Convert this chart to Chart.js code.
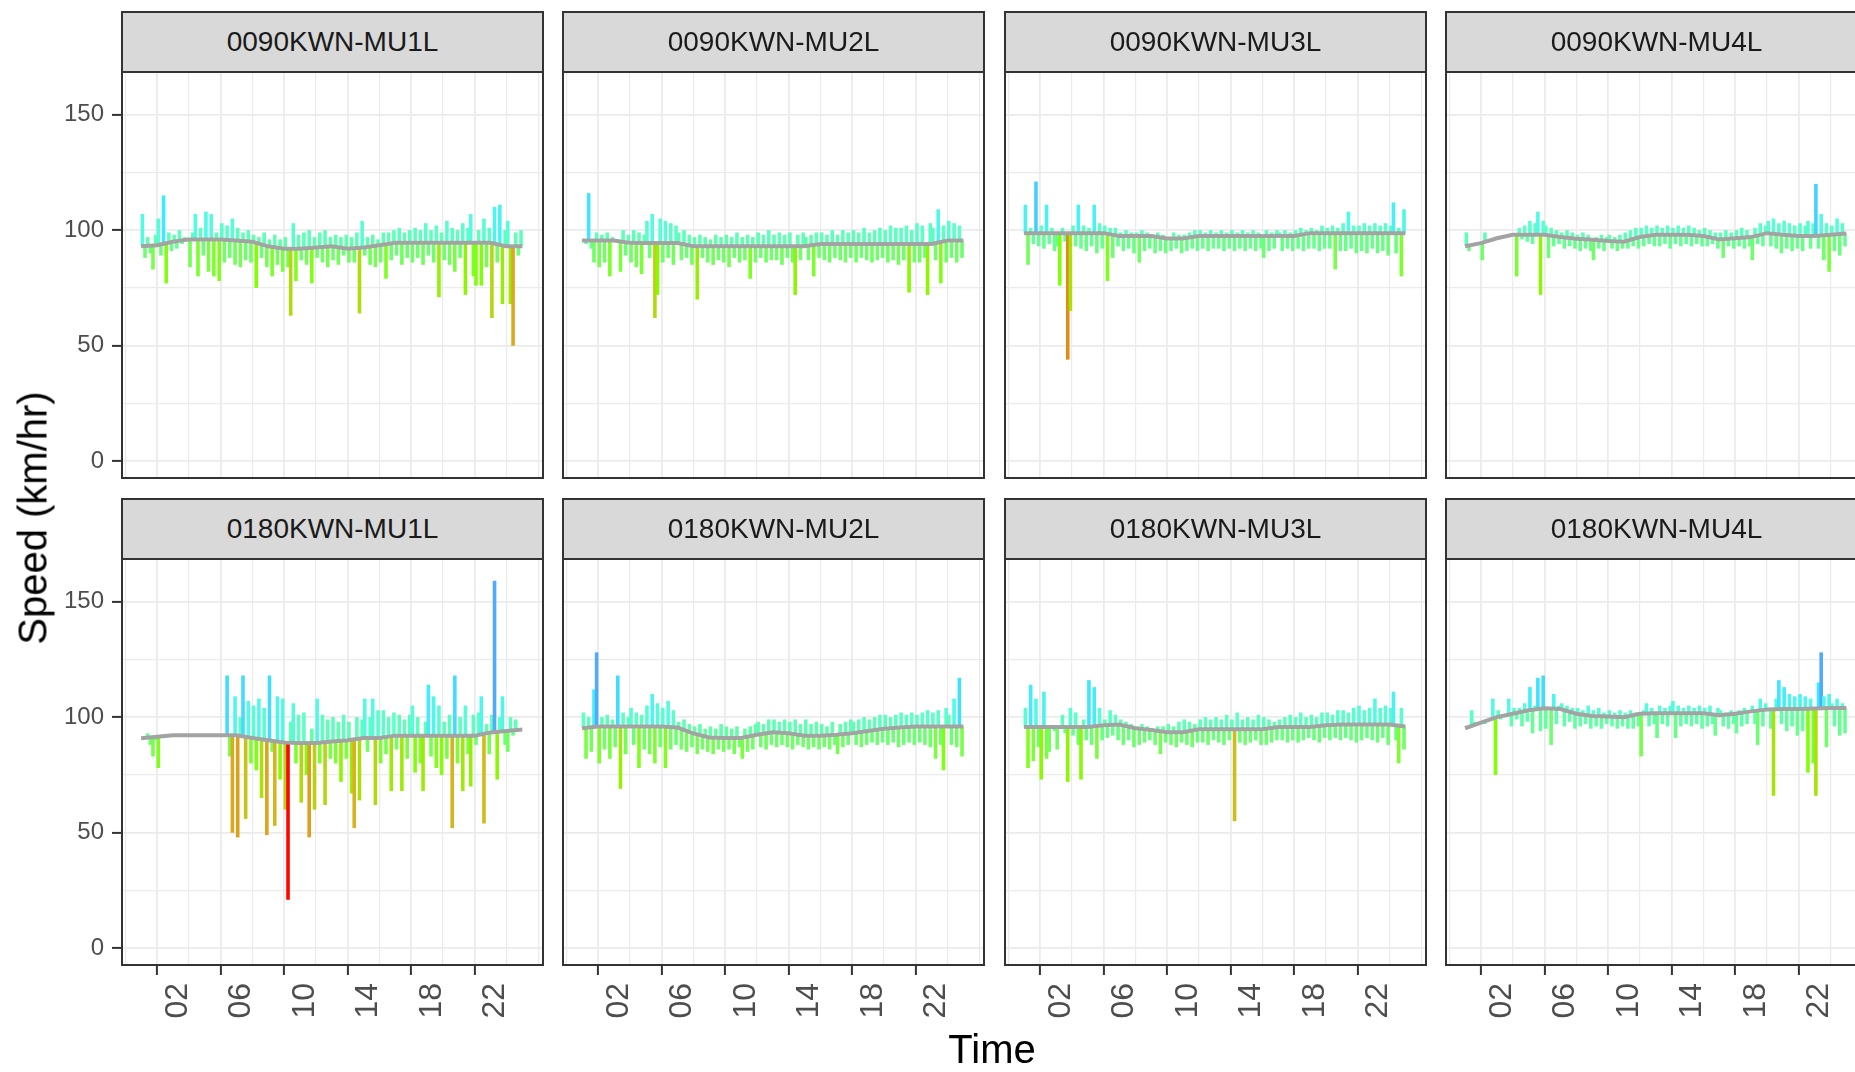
<!DOCTYPE html>
<html>
<head>
<meta charset="utf-8">
<title>Speed by detector</title>
<script src="https://cdn.jsdelivr.net/npm/chart.js@4.4.1/dist/chart.umd.min.js"></script>
<style>
  html, body { margin: 0; padding: 0; background: #fff; }
  body { width: 1855px; height: 1072px; position: relative; overflow: hidden;
         font-family: "Liberation Sans", Arial, sans-serif; }
  canvas { position: absolute; }
  .strip { position: absolute; box-sizing: border-box; background: #d9d9d9; border: 2px solid #333;
           color: #1a1a1a; font-size: 28px; display: flex; align-items: center; justify-content: center;
           z-index: 2; white-space: nowrap; overflow: hidden; }
  .axis-title { position: absolute; color: #000; font-size: 40px; white-space: nowrap; }
  #ytitle { left: 33px; top: 518px; transform: translate(-50%, -50%) rotate(-90deg); }
  #xtitle { left: 992px; top: 1049px; transform: translate(-50%, -50%); }
</style>
</head>
<body>
<div id="plot"></div>
<div class="axis-title" id="ytitle">Speed (km/hr)</div>
<div class="axis-title" id="xtitle">Time</div>
<script>
const panelNames = ['0090KWN-MU1L', '0090KWN-MU2L', '0090KWN-MU3L', '0090KWN-MU4L',
                    '0180KWN-MU1L', '0180KWN-MU2L', '0180KWN-MU3L', '0180KWN-MU4L'];

const yTicks = [0, 25, 50, 75, 100, 125, 150];
const yLabelled = [0, 50, 100, 150];
const xTicks = [0, 2, 4, 6, 8, 10, 12, 14, 16, 18, 20, 22, 24];
const xLabelled = [2, 6, 10, 14, 18, 22];

// hours where the grey mean line was read
const meanHours = [0, 1, 2, 3, 4, 5, 6, 7, 8, 9, 10, 11, 12, 13, 14, 15, 16, 17, 18, 19, 20, 21, 22, 23, 24];

const mean_0090_MU1L = [93, 93.5, 95, 96, 96, 96, 95.5, 95, 93, 92, 92, 92.5, 93, 92, 92.5, 93.5, 94.5, 94.5, 94.5, 94.5, 94.5, 94.5, 94.5, 93, 93];
const mean_0090_MU2L = [95.5, 95.5, 95.5, 94.5, 94.4, 94.4, 94.4, 93, 93, 93, 93, 93, 93, 93, 93, 94, 94, 94, 94, 94, 94, 94, 94, 95.5, 95.5];
const mean_0090_MU3L = [98.7, 98.7, 98.7, 98.7, 98.7, 98.7, 97.5, 97.5, 97.5, 96.4, 96.4, 97.5, 97.5, 97.5, 97.5, 97.5, 97.5, 97.5, 98.7, 98.7, 98.7, 98.7, 98.7, 98.7, 98.7];
const mean_0090_MU4L = [93, 94.4, 96.5, 98, 98, 98, 97, 96.3, 95.8, 95.3, 95, 97, 98, 98, 98, 97.5, 96, 96.5, 97, 98.7, 98, 97.5, 97.5, 98, 98.5];
const mean_0180_MU1L = [90.9, 91.5, 92.2, 92.2, 92.2, 92.2, 92.2, 91, 90, 89, 88.8, 88.8, 89.5, 90, 91, 91, 92, 92, 92, 92, 92, 92, 93.4, 94, 94.7];
const mean_0180_MU2L = [95.2, 96, 96, 96, 96, 96, 95.5, 93, 91.2, 91, 91, 92.4, 93.5, 93, 92, 92, 92.4, 93, 94, 95, 95.5, 96, 96, 96, 96];
const mean_0180_MU3L = [95.7, 95.7, 95.7, 95.7, 95.7, 96.5, 96.8, 95.2, 94.4, 93.5, 93.5, 94.8, 94.8, 94.8, 94.8, 94.8, 95.7, 95.7, 95.7, 96.5, 96.8, 96.8, 96.8, 96.8, 96];
const mean_0180_MU4L = [95.2, 97.6, 100, 101.5, 103, 103.8, 103.5, 101.5, 100.5, 100.3, 100, 101.5, 101.7, 101.7, 101.7, 101.7, 100.8, 101.5, 102.5, 103.3, 103.5, 103.5, 103.7, 104, 104];

// one reading every 10 minutes, one row per hour
const speed_0090_MU1L = [
  107, 88, 97, 90, 83, 98,
  105, 89, 115, 77, 99, 91,
  98, 92, 100, 94, 97, 95,
  84, 99, 107, 80, 101, 89,
  108, 82, 107, 80, 99, 78,
  103, 86, 102, 88, 105, 85,
  101, 84, 99, 87, 100, 86,
  98, 75, 97, 88, 99, 84,
  96, 80, 98, 85, 96, 82,
  97, 84, 63, 103, 78, 98,
  87, 99, 85, 100, 77, 97,
  88, 99, 86, 100, 84, 97,
  87, 98, 85, 97, 89, 98,
  86, 97, 86, 99, 64, 104,
  89, 97, 85, 98, 84, 96,
  86, 99, 79, 99, 87, 100,
  89, 101, 85, 99, 88, 100,
  86, 101, 88, 100, 85, 103,
  89, 100, 86, 102, 71, 99,
  87, 104, 85, 101, 82, 100,
  88, 103, 72, 101, 107, 80,
  76, 100, 76, 105, 84, 101,
  62, 110, 86, 111, 68, 100,
  104, 68, 50, 99, 89, 100
];
const speed_0090_MU2L = [
  95, 94, 116, 92, 86, 99,
  84, 98, 86, 99, 80, 97,
  95, 96, 82, 100, 89, 98,
  86, 100, 84, 99, 81, 98,
  104, 88, 107, 62, 72, 105,
  86, 104, 88, 103, 85, 102,
  99, 87, 100, 88, 98, 85,
  97, 70, 98, 88, 97, 86,
  96, 85, 98, 87, 97, 86,
  98, 84, 97, 88, 99, 86,
  97, 87, 98, 79, 97, 86,
  99, 88, 98, 86, 100, 87,
  98, 87, 99, 85, 98, 88,
  99, 86, 72, 98, 87, 99,
  97, 87, 98, 80, 99, 88,
  99, 87, 98, 86, 100, 88,
  98, 87, 100, 86, 99, 88,
  100, 86, 99, 88, 101, 87,
  99, 86, 100, 87, 101, 88,
  100, 86, 102, 87, 101, 85,
  101, 87, 102, 73, 100, 86,
  103, 86, 102, 88, 72, 103,
  101, 87, 109, 77, 102, 86,
  104, 88, 103, 86, 102, 88
];
const speed_0090_MU3L = [
  111, 85, 101, 94, 121, 93,
  102, 92, 111, 94, 101, 91,
  93, 76, 101, 95, 44, 65,
  102, 93, 111, 92, 102, 91,
  101, 93, 111, 90, 103, 92,
  102, 78, 101, 88, 101, 93,
  99, 91, 100, 92, 99, 90,
  99, 86, 100, 91, 99, 92,
  98, 90, 99, 91, 98, 90,
  97, 91, 99, 92, 98, 90,
  98, 91, 99, 92, 100, 91,
  100, 92, 99, 91, 100, 92,
  99, 92, 100, 91, 99, 92,
  100, 91, 99, 92, 100, 91,
  99, 92, 100, 91, 99, 92,
  88, 100, 91, 99, 92, 100,
  99, 91, 100, 92, 99, 91,
  100, 92, 101, 91, 100, 92,
  101, 92, 100, 91, 102, 92,
  101, 92, 102, 83, 101, 91,
  103, 91, 108, 92, 102, 90,
  102, 91, 103, 90, 102, 92,
  103, 90, 102, 91, 103, 89,
  102, 112, 90, 101, 80, 109
];
const speed_0090_MU4L = [
  99, 91, null, null, null, null,
  87, 99, null, null, null, null,
  null, null, null, null, null, null,
  98, 80, 101, 96, 102, 95,
  104, 94, 103, 108, 72, 104,
  102, 88, 101, 93, 100, 94,
  99, 92, 100, 93, 99, 92,
  98, 91, 99, 92, 98, 91,
  87, 97, 92, 98, 91, 97,
  98, 92, 97, 91, 98, 92,
  99, 92, 100, 93, 101, 92,
  101, 93, 102, 94, 101, 93,
  102, 93, 101, 94, 102, 92,
  101, 94, 102, 93, 101, 94,
  102, 93, 101, 94, 100, 93,
  101, 93, 100, 94, 99, 92,
  99, 88, 100, 93, 99, 92,
  100, 93, 101, 92, 100, 93,
  87, 101, 94, 103, 93, 102,
  104, 93, 105, 92, 103, 90,
  104, 92, 103, 91, 102, 92,
  103, 91, 102, 104, 92, 103,
  120, 92, 107, 87, 103, 82,
  102, 91, 105, 89, 103, 93
];
const speed_0180_MU1L = [
  null, null, 93, 88, 83, 90,
  78, null, null, null, null, null,
  null, null, null, null, null, null,
  null, null, null, null, null, null,
  null, null, null, null, null, null,
  null, null, 118, 83, 50, 109,
  48, 100, 118, 56, 107, 80,
  105, 77, 108, 65, 104, 49,
  118, 85, 53, 109, 73, 108,
  60, 21, 98, 106, 80, 101,
  63, 102, 75, 48, 95, 60,
  108, 80, 101, 62, 99, 82,
  100, 80, 98, 72, 101, 82,
  98, 67, 52, 100, 64, 99,
  108, 85, 100, 108, 62, 103,
  80, 103, 84, 100, 68, 102,
  86, 101, 68, 99, 82, 101,
  105, 76, 100, 80, 68, 98,
  114, 83, 109, 78, 105, 75,
  98, 82, 101, 52, 118, 80,
  100, 68, 105, 84, 70, 101,
  88, 102, 109, 54, 97, 84,
  101, 159, 73, 100, 109, 88,
  85, 100, 92, 99, null, null
];
const speed_0180_MU2L = [
  102, 82, 100, 85, 112, 128,
  80, 100, 86, 101, 82, 99,
  87, 118, 69, 102, 84, 100,
  104, 88, 102, 78, 101, 86,
  105, 84, 110, 80, 106, 87,
  104, 78, 107, 86, 103, 88,
  98, 86, 99, 85, 97, 87,
  96, 84, 97, 86, 95, 85,
  96, 84, 95, 86, 97, 85,
  96, 86, 95, 84, 96, 87,
  82, 95, 85, 96, 86, 97,
  98, 87, 97, 86, 99, 88,
  99, 87, 98, 88, 99, 87,
  98, 86, 99, 88, 97, 87,
  99, 86, 97, 87, 98, 86,
  97, 87, 96, 86, 98, 88,
  84, 97, 87, 98, 88, 99,
  98, 88, 99, 87, 100, 88,
  99, 89, 100, 88, 101, 89,
  101, 88, 100, 89, 101, 87,
  102, 88, 101, 89, 102, 88,
  101, 89, 102, 88, 103, 87,
  102, 82, 103, 88, 77, 104,
  101, 88, 108, 87, 117, 83
];
const speed_0180_MU3L = [
  104, 78, 114, 81, 108, 87,
  73, 111, 82, 85, null, 94,
  86, null, 101, 93, 72, 104,
  92, 102, 88, 73, 99, 90,
  116, 88, 113, 82, 104, 90,
  99, 91, 103, 92, 101, 90,
  99, 88, 98, 90, 97, 87,
  96, 88, 97, 89, 96, 90,
  95, 88, 96, 84, 96, 89,
  97, 88, 96, 87, 98, 89,
  99, 88, 98, 87, 97, 89,
  99, 89, 100, 88, 99, 90,
  100, 89, 99, 88, 101, 90,
  99, 55, 102, 89, 99, 88,
  100, 89, 99, 90, 101, 88,
  100, 88, 99, 89, 98, 90,
  99, 90, 100, 89, 101, 90,
  100, 89, 102, 90, 100, 91,
  101, 90, 100, 89, 102, 91,
  102, 90, 101, 91, 103, 90,
  103, 91, 102, 90, 104, 89,
  105, 90, 103, 91, 104, 90,
  108, 89, 104, 91, 105, 88,
  104, 111, 90, 80, 104, 86
];
const speed_0180_MU4L = [
  null, null, 103, 98, null, null,
  null, 97, null, null, 108, 75,
  103, 99, null, 101, 108, 96,
  104, 99, 104, 96, 106, 98,
  113, 93, 105, 117, 94, 118,
  95, 104, 88, 110, 97, 105,
  106, 96, 105, 98, 104, 95,
  104, 96, 103, 97, 105, 95,
  103, 96, 104, 95, 102, 97,
  103, 96, 102, 95, 103, 96,
  102, 95, 103, 95, 102, 96,
  83, 103, 106, 96, 104, 97,
  91, 105, 97, 104, 96, 105,
  107, 91, 105, 96, 104, 97,
  105, 96, 104, 97, 105, 95,
  104, 96, 105, 97, 92, 104,
  103, 96, 102, 95, 103, 97,
  93, 103, 96, 104, 97, 103,
  105, 97, 88, 108, 96, 106,
  104, 95, 66, 108, 116, 97,
  113, 94, 110, 96, 109, 92,
  110, 94, 109, 76, 108, 80,
  66, 115, 128, 109, 87, 110,
  106, 96, 108, 92, 106, 93
];

const panels = [
  { name: panelNames[0], mean: mean_0090_MU1L, speed: speed_0090_MU1L },
  { name: panelNames[1], mean: mean_0090_MU2L, speed: speed_0090_MU2L },
  { name: panelNames[2], mean: mean_0090_MU3L, speed: speed_0090_MU3L },
  { name: panelNames[3], mean: mean_0090_MU4L, speed: speed_0090_MU4L },
  { name: panelNames[4], mean: mean_0180_MU1L, speed: speed_0180_MU1L },
  { name: panelNames[5], mean: mean_0180_MU2L, speed: speed_0180_MU2L },
  { name: panelNames[6], mean: mean_0180_MU3L, speed: speed_0180_MU3L },
  { name: panelNames[7], mean: mean_0180_MU4L, speed: speed_0180_MU4L }
];

// reading times: centre of each 10 minute slot
const slotHours = Array.from({ length: 144 }, (_, i) => i / 6 + 1 / 12);

// page layout
const colLeft = [122, 563, 1005, 1446];
const rowTop = [72, 559];
const panelW = 421, panelH = 406, stripH = 62;
const padL = 100, padT = 4, padR = 6, padB = 80;

const colourStops = [
  [20, [255, 0, 0]],
  [40, [230, 120, 20]],
  [52, [215, 180, 30]],
  [65, [170, 225, 10]],
  [75, [130, 255, 0]],
  [80, [125, 255, 45]],
  [86, [112, 255, 100]],
  [91, [104, 255, 135]],
  [96, [98, 255, 168]],
  [102, [92, 255, 198]],
  [108, [80, 250, 230]],
  [115, [60, 235, 255]],
  [128, [80, 170, 255]]
];

function speedColour(v) {
  if (v <= colourStops[0][0]) return 'rgb(' + colourStops[0][1].join(',') + ')';
  for (let i = 1; i < colourStops.length; i++) {
    const [v1, c1] = colourStops[i];
    if (v <= v1) {
      const [v0, c0] = colourStops[i - 1];
      const f = (v - v0) / (v1 - v0);
      const c = c0.map((a, k) => Math.round(a + f * (c1[k] - a)));
      return 'rgb(' + c.join(',') + ')';
    }
  }
  return 'rgb(' + colourStops[colourStops.length - 1][1].join(',') + ')';
}

function meanAt(knots, t) {
  for (let i = 0; i < meanHours.length - 1; i++) {
    if (t <= meanHours[i + 1]) {
      const f = (t - meanHours[i]) / (meanHours[i + 1] - meanHours[i]);
      return knots[i] + f * (knots[i + 1] - knots[i]);
    }
  }
  return knots[knots.length - 1];
}

const panelBorder = {
  id: 'panelBorder',
  afterDraw(chart) {
    const { ctx, chartArea: a } = chart;
    ctx.save();
    ctx.strokeStyle = '#333333';
    ctx.lineWidth = 2;
    ctx.strokeRect(a.left, a.top, a.right - a.left, a.bottom - a.top);
    ctx.restore();
  }
};

Chart.defaults.font.family = '"Liberation Sans", Arial, sans-serif';

function noPadding(s) {
  s.paddingTop = 0; s.paddingBottom = 0; s.paddingLeft = 0; s.paddingRight = 0;
}

function drawPanel(p, idx) {
  const col = idx % 4, row = Math.floor(idx / 4);
  const plot = document.getElementById('plot');

  const canvas = document.createElement('canvas');
  canvas.width = padL + panelW + padR;
  canvas.height = padT + panelH + padB;
  canvas.style.left = (colLeft[col] - padL) + 'px';
  canvas.style.top = (rowTop[row] - padT) + 'px';
  plot.appendChild(canvas);

  const strip = document.createElement('div');
  strip.className = 'strip';
  strip.textContent = p.name;
  strip.style.left = (colLeft[col] - 1) + 'px';
  strip.style.top = (rowTop[row] - stripH + 1) + 'px';
  strip.style.width = (panelW + 2) + 'px';
  strip.style.height = stripH + 'px';
  plot.appendChild(strip);

  const bars = [], colours = [];
  p.speed.forEach((v, i) => {
    if (v === null) return;
    const t = slotHours[i];
    bars.push({ x: t, y: [meanAt(p.mean, t), v] });
    colours.push(speedColour(v));
  });

  new Chart(canvas, {
    type: 'bar',
    data: {
      datasets: [
        {
          type: 'line',
          data: meanHours.map((h, i) => ({ x: h, y: p.mean[i] })),
          borderColor: '#a3a3a3',
          borderWidth: 4,
          pointRadius: 0,
          tension: 0,
          order: 0
        },
        {
          type: 'bar',
          data: bars,
          backgroundColor: colours,
          barThickness: 3.6,
          borderWidth: 0,
          inflateAmount: 0,
          grouped: false,
          order: 1
        }
      ]
    },
    options: {
      responsive: false,
      animation: false,
      devicePixelRatio: 1,
      layout: { padding: { top: padT, right: padR, left: 0, bottom: 0 } },
      plugins: { legend: { display: false }, tooltip: { enabled: false } },
      scales: {
        x: {
          type: 'linear',
          min: -1.2,
          max: 25.3,
          offset: false,
          afterBuildTicks: s => { s.ticks = xTicks.map(v => ({ value: v })); },
          afterFit: s => { s.height = padB; noPadding(s); },
          border: { display: false },
          grid: {
            color: '#ebebeb',
            lineWidth: c => (c.tick && xLabelled.includes(c.tick.value)) ? 1.8 : 1.2,
            drawTicks: row === 1,
            tickLength: 10,
            tickWidth: 2,
            tickColor: c => (c.tick && xLabelled.includes(c.tick.value)) ? '#333333' : 'rgba(0,0,0,0)'
          },
          ticks: {
            display: row === 1,
            autoSkip: false,
            minRotation: 90,
            maxRotation: 90,
            padding: 8,
            labelOffset: 5,
            color: '#4d4d4d',
            font: { size: 32 },
            callback: v => xLabelled.includes(v) ? String(v).padStart(2, '0') : ''
          }
        },
        y: {
          type: 'linear',
          min: -7.2,
          max: 168.4,
          afterBuildTicks: s => { s.ticks = yTicks.map(v => ({ value: v })); },
          afterFit: s => { s.width = padL; noPadding(s); },
          border: { display: false },
          grid: {
            color: '#ebebeb',
            lineWidth: c => (c.tick && yLabelled.includes(c.tick.value)) ? 1.8 : 1.2,
            drawTicks: col === 0,
            tickLength: 10,
            tickWidth: 2,
            tickColor: c => (c.tick && yLabelled.includes(c.tick.value)) ? '#333333' : 'rgba(0,0,0,0)'
          },
          ticks: {
            display: col === 0,
            padding: 8,
            color: '#4d4d4d',
            font: { size: 24 },
            callback: v => yLabelled.includes(v) ? String(v) : ''
          }
        }
      }
    },
    plugins: [panelBorder]
  });
}

panels.forEach(drawPanel);
</script>
</body>
</html>
